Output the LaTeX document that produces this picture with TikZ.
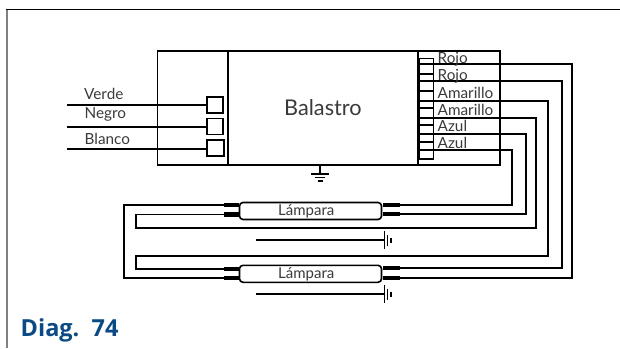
\documentclass[tikz,border=0pt]{standalone}
\usepackage{fontspec}
\setmainfont{Lato}
\newfontfamily\diagfont{Open Sans}
\definecolor{diagblue}{HTML}{0B4A85}
\definecolor{textgrey}{HTML}{3A3A3A}
\definecolor{framegrey}{HTML}{808080}
\tikzset{
  x=1pt,y=-1pt,
  wire/.style={line width=1.8pt,black,line join=miter},
  boxline/.style={line width=1.7pt,black},
  pin/.style={line width=4.2pt,black},
  term/.style={draw=black,line width=1.7pt,fill=white,minimum width=16pt,minimum height=16pt,inner sep=0pt,outer sep=0pt,anchor=north west},
  rterm/.style={draw=black,line width=1.3pt,minimum width=14.5pt,inner sep=0pt,outer sep=0pt,anchor=north west},
  lab/.style={font=\fontsize{15.3}{15.3}\selectfont,text=textgrey,anchor=base west,inner sep=0pt},
  lamp/.style={draw=black,line width=1.6pt,fill=white,rounded corners=3.5pt,minimum width=142pt,minimum height=17pt,inner sep=0pt,outer sep=0pt,anchor=north west},
  gnd/.style={line width=1.5pt,black},
}
\begin{document}
\begin{tikzpicture}
\useasboundingbox (0,0) rectangle (620,348);
\draw[line width=2pt,framegrey] (6.5,348) -- (6.5,9.5);
\draw[line width=1.5pt,black] (6,9.5) -- (620,9.5);
% ballast
\node[boxline,draw,minimum width=342.5pt,minimum height=114pt,inner sep=0pt,outer sep=0pt,anchor=north west] (ballast) at (157.5,51) {};
\coordinate (d1t) at (228,51); \coordinate (d1b) at (228,165);
\coordinate (d2t) at (418,51); \coordinate (d2b) at (418,165);
\draw[boxline] (d1t) -- (d1b);
\draw[boxline] (d2t) -- (d2b);
\node[font=\fontsize{21.7}{21.7}\selectfont,text=textgrey,anchor=base west,inner sep=0pt] (title) at (284,115.5) {Balastro};
% left terminals
\node[term] (tA) at (207,97) {};
\node[term] (tB) at (207,118.5) {};
\node[term,minimum width=17pt] (tC) at (207,140.3) {};
\coordinate (wA) at (66.7,104.7);
\coordinate (wB) at (66.7,126.7);
\coordinate (wC) at (66.7,148.7);
\draw[wire] (wA) -- (wA -| tA.west);
\draw[wire] (wB) -- (wB -| tB.west);
\draw[wire] (wC) -- (wC -| tC.west);
\node[lab] (lV) at (84,99) {Verde};
\node[lab] (lN) at (84.5,118.7) {Negro};
\node[lab] (lW) at (84.5,144.5) {Blanco};
% right terminal strip
\node[rterm,minimum height=100.5pt] (strip) at (419,58.5) {};
\foreach \y in {74.3,90.7,107.7,125,141.7}{
  \draw[wire] (419,\y) -- (433.7,\y);
}
\foreach \n/\y in {a/64,b/80.7,c/101.3,d/117.7,e/134,f/150.3}{
  \coordinate (s\n) at (417,\y);
}
% lamps
\node[lamp] (L1) at (239.5,202.5) {};
\node[lamp] (L2) at (239.5,265.3) {};
\node[lab,font=\fontsize{15}{15}\selectfont] (L1t) at (278,215.7) {Lámpara};
\node[lab,font=\fontsize{15}{15}\selectfont] (L2t) at (278,278) {Lámpara};
% lamp pins
\coordinate (p1a) at (400,204.6); \coordinate (p1b) at (400,214.3);
\coordinate (p2a) at (400,267.7); \coordinate (p2b) at (400,277.7);
\coordinate (q1a) at (223.5,205.3); \coordinate (q1b) at (223.5,214.5);
\coordinate (q2a) at (223.5,269); \coordinate (q2b) at (223.5,278);
\foreach \c in {p1a,p1b,p2a,p2b}{\draw[pin] (\c) -- ++(-17.5,0);}
\foreach \c in {q1a,q1b,q2a,q2b}{\draw[pin] (\c) -- ++(15,0);}
% wires ballast to lamps
\draw[wire] (sa) -- (571.7,64) -- (571.7,277.7) -- (p2b);
\draw[wire] (sb) -- (561.7,80.7) -- (561.7,267.7) -- (p2a);
\draw[wire] (sc) -- (547.7,101.3) -- (547.7,255.7) -- (136,255.7) -- (136,269) -- (q2a);
\draw[wire] (sd) -- (536,117.7) -- (536,228.3) -- (136,228.3) -- (136,214.5) -- (q1b);
\draw[wire] (se) -- (526,134) -- (526,214.3) -- (p1b);
\draw[wire] (sf) -- (512,150.3) -- (512,204.6) -- (p1a);
\draw[wire] (q1a) -- (124.3,205.3) -- (124.3,278) -- (q2b);
\foreach \t/\y in {Rojo/63,Rojo/80,Amarillo/98.5,Amarillo/115,Azul/131.5,Azul/148}{
  \node[lab] at (437.5,\y) {\t};
}
% top ground
\coordinate (g0) at (320,165); \coordinate (g1) at (320,174);
\draw[gnd] (g0) -- (g1);
\draw[gnd] (311,174) -- (329,174);
\draw[gnd] (315,177.7) -- (325,177.7);
\draw[gnd] (317.5,181) -- (322.5,181);
% lamp grounds
\foreach \y in {240,294}{
  \draw[gnd] (255.7,\y) -- (384.3,\y);
  \draw[gnd] (384.3,\y-9) -- (384.3,\y+9);
  \draw[gnd] (387.7,\y-5.5) -- (387.7,\y+5.5);
  \draw[gnd,line width=1.8pt] (391.3,\y-2.5) -- (391.3,\y+2.5);
}
\node[font=\diagfont\bfseries\fontsize{23.5}{23.5}\selectfont,text=diagblue,anchor=base west,inner sep=0pt] (cap) at (20.5,336) {Diag.\ \ 74};
\end{tikzpicture}
\end{document}
